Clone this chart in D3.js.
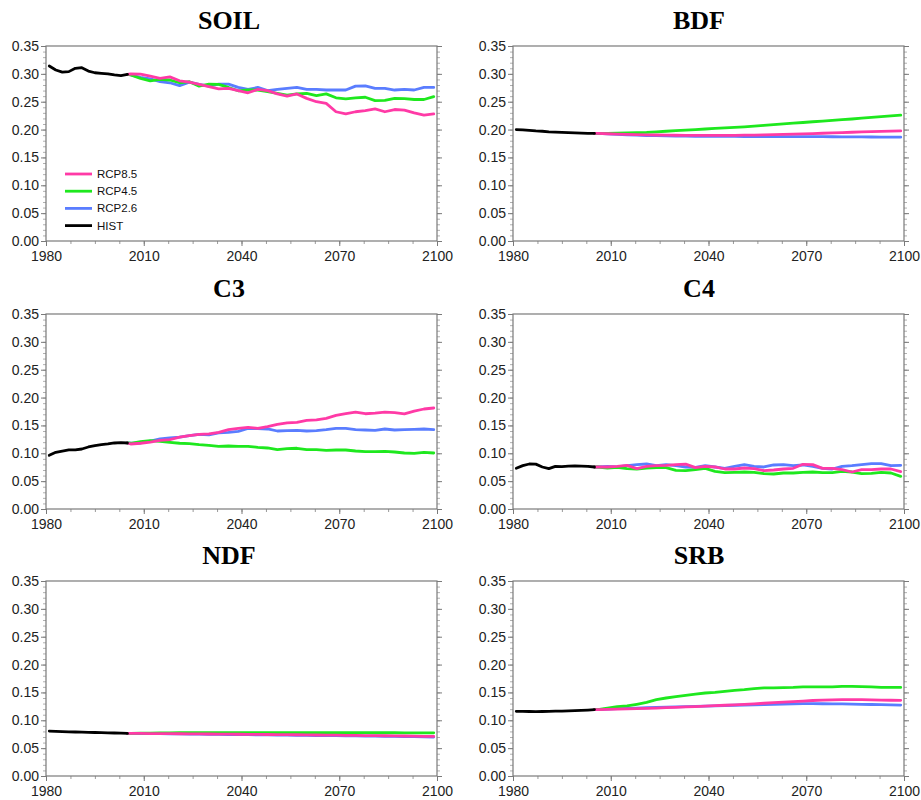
<!DOCTYPE html>
<html>
<head>
<meta charset="utf-8">
<script src="https://cdn.jsdelivr.net/npm/d3@7"></script>
<style>
  body { margin: 0; background: #fff; }
  svg { display: block; }
</style>
</head>
<body>
<div id="chart"></div>
<script>
// years: HIST every 2 yr, RCP every 3 yr
const histYears = d3.range(1981, 2006, 2);
const rcpYears = d3.range(2006, 2100, 3);
const xTickValues = [1980, 2010, 2040, 2070, 2100];
const yTickValues = [0, 0.05, 0.10, 0.15, 0.20, 0.25, 0.30, 0.35];
const seriesNames = ["RCP8.5", "RCP4.5", "RCP2.6", "HIST"];
const panelTitles = ["SOIL", "BDF", "C3", "C4", "NDF", "SRB"];

// SOIL
const soilHist = [0.314, 0.307, 0.303, 0.304, 0.310, 0.311, 0.305, 0.302, 0.301, 0.300, 0.298, 0.297, 0.299];
const soilRcp85 = [0.300, 0.2994, 0.296, 0.292, 0.2946, 0.2875, 0.285, 0.281, 0.277, 0.273, 0.274, 0.270, 0.266, 0.272, 0.270, 0.264,
  0.260, 0.264, 0.256, 0.250, 0.247, 0.232, 0.228, 0.232, 0.234, 0.237, 0.232, 0.236, 0.235, 0.230, 0.226, 0.228];
const soilRcp45 = [0.298, 0.292, 0.2875, 0.290, 0.289, 0.284, 0.286, 0.278, 0.2815, 0.281, 0.2756, 0.2696, 0.271, 0.271, 0.268, 0.265,
  0.262, 0.264, 0.265, 0.261, 0.264, 0.257, 0.255, 0.257, 0.258, 0.252, 0.2524, 0.256, 0.2554, 0.254, 0.254, 0.259];
const soilRcp26 = [0.298, 0.2935, 0.291, 0.286, 0.284, 0.279, 0.285, 0.281, 0.278, 0.2815, 0.2815, 0.2756, 0.272, 0.2756, 0.270, 0.272,
  0.274, 0.2756, 0.272, 0.272, 0.271, 0.271, 0.271, 0.278, 0.2786, 0.274, 0.274, 0.271, 0.272, 0.271, 0.2756, 0.2756];

// BDF
const bdfHist = [0.200, 0.1995, 0.1985, 0.1975, 0.197, 0.196, 0.1955, 0.195, 0.1945, 0.194, 0.1935, 0.193, 0.193];
const bdfRcp85 = [0.193, 0.1925, 0.192, 0.1915, 0.191, 0.1906, 0.1903, 0.190, 0.1898, 0.1896, 0.1895, 0.1895, 0.1895, 0.1896, 0.1897, 0.1899,
  0.1901, 0.1904, 0.1908, 0.1912, 0.1917, 0.1922, 0.1928, 0.1934, 0.194, 0.1946, 0.1952, 0.1958, 0.1963, 0.1968, 0.1973, 0.1977];
const bdfRcp45 = [0.193, 0.1932, 0.1935, 0.194, 0.1945, 0.195, 0.196, 0.197, 0.198, 0.199, 0.200, 0.201, 0.202, 0.203, 0.204, 0.205,
  0.2062, 0.2075, 0.209, 0.2103, 0.2115, 0.2127, 0.214, 0.2152, 0.2165, 0.2178, 0.219, 0.2205, 0.222, 0.2232, 0.2245, 0.2258];
const bdfRcp26 = [0.193, 0.1922, 0.1914, 0.1906, 0.190, 0.1894, 0.189, 0.1886, 0.1883, 0.1881, 0.188, 0.1879, 0.1878, 0.1877, 0.1877, 0.1876,
  0.1876, 0.1875, 0.1875, 0.1875, 0.1874, 0.1874, 0.1873, 0.1872, 0.1871, 0.187, 0.1869, 0.1868, 0.1867, 0.1866, 0.1865, 0.1864];

// C3
const c3Hist = [0.0963, 0.1017, 0.104, 0.106, 0.106, 0.1077, 0.1113, 0.1137, 0.1155, 0.1167, 0.1185, 0.119, 0.1185];
const c3Rcp85 = [0.1167, 0.118, 0.120, 0.123, 0.1245, 0.129, 0.1317, 0.134, 0.135, 0.1377, 0.1424, 0.1448, 0.1466, 0.1448, 0.148, 0.152,
  0.1544, 0.1556, 0.159, 0.160, 0.1628, 0.168, 0.171, 0.1738, 0.171, 0.172, 0.1738, 0.173, 0.1706, 0.1755, 0.1795, 0.1813];
const c3Rcp45 = [0.118, 0.1209, 0.1227, 0.1215, 0.1197, 0.118, 0.1173, 0.1155, 0.1143, 0.1125, 0.1131, 0.1125, 0.1125, 0.1107, 0.1095, 0.1065,
  0.1083, 0.109, 0.1065, 0.1065, 0.1053, 0.1059, 0.1059, 0.1041, 0.1029, 0.1029, 0.1035, 0.1023, 0.1005, 0.0999, 0.1017, 0.1005];
const c3Rcp26 = [0.118, 0.1185, 0.122, 0.1257, 0.1275, 0.129, 0.1317, 0.134, 0.1329, 0.1365, 0.1377, 0.1394, 0.1448, 0.1442, 0.1436, 0.140,
  0.1406, 0.1412, 0.140, 0.1406, 0.1424, 0.1448, 0.1448, 0.1424, 0.1418, 0.1412, 0.1436, 0.1418, 0.1424, 0.143, 0.1436, 0.1424];

// C4
const c4Hist = [0.073, 0.0778, 0.0808, 0.0805, 0.0754, 0.0724, 0.0766, 0.076, 0.0768, 0.0772, 0.077, 0.0766, 0.0754];
const c4Rcp85 = [0.0754, 0.0754, 0.0766, 0.0784, 0.0724, 0.0766, 0.0778, 0.0784, 0.0796, 0.0805, 0.0742, 0.0766, 0.0754, 0.0718, 0.0718, 0.0736,
  0.0724, 0.0688, 0.070, 0.0718, 0.073, 0.0802, 0.0796, 0.073, 0.073, 0.0706, 0.0664, 0.0706, 0.0706, 0.0718, 0.0718, 0.067];
const c4Rcp45 = [0.0754, 0.0736, 0.0748, 0.0724, 0.0718, 0.0736, 0.0742, 0.0742, 0.0694, 0.0688, 0.0706, 0.073, 0.0676, 0.0652, 0.0658, 0.0664,
  0.0658, 0.0634, 0.0628, 0.0646, 0.0646, 0.0658, 0.0664, 0.0652, 0.0652, 0.0676, 0.0664, 0.0634, 0.064, 0.0658, 0.0646, 0.0586];
const c4Rcp26 = [0.0754, 0.0766, 0.0754, 0.0778, 0.0796, 0.0808, 0.0778, 0.0796, 0.0778, 0.0754, 0.0748, 0.0778, 0.0754, 0.073, 0.0766, 0.0796,
  0.0766, 0.0754, 0.079, 0.0796, 0.0778, 0.079, 0.0766, 0.073, 0.0718, 0.0766, 0.0778, 0.0796, 0.0814, 0.0814, 0.0778, 0.0784];

// NDF
const ndfHist = [0.0805, 0.0801, 0.0797, 0.0793, 0.079, 0.0787, 0.0784, 0.0781, 0.0778, 0.0775, 0.0772, 0.0768, 0.0765];
const ndfRcp85 = [0.0765, 0.0764, 0.0762, 0.0761, 0.076, 0.0758, 0.0757, 0.0755, 0.0754, 0.0752, 0.0751, 0.0749, 0.0748, 0.0746, 0.0745, 0.0743,
  0.0742, 0.074, 0.0738, 0.0736, 0.0734, 0.0732, 0.073, 0.0728, 0.0726, 0.0724, 0.0722, 0.072, 0.0718, 0.0716, 0.0713, 0.0711];
const ndfRcp45 = [0.0765, 0.0768, 0.0771, 0.0773, 0.0775, 0.0777, 0.0778, 0.0779, 0.078, 0.078, 0.078, 0.078, 0.078, 0.078, 0.078, 0.0779,
  0.0779, 0.0779, 0.0779, 0.0778, 0.0778, 0.0778, 0.0777, 0.0777, 0.0777, 0.0776, 0.0776, 0.0776, 0.0775, 0.0775, 0.0775, 0.0775];
const ndfRcp26 = [0.0765, 0.0763, 0.0761, 0.0759, 0.0757, 0.0755, 0.0753, 0.0751, 0.0749, 0.0747, 0.0745, 0.0743, 0.0741, 0.0739, 0.0737, 0.0735,
  0.0733, 0.0731, 0.0729, 0.0727, 0.0725, 0.0723, 0.0721, 0.0719, 0.0717, 0.0715, 0.0713, 0.0711, 0.0708, 0.0705, 0.0702, 0.0699];

// SRB
const srbHist = [0.116, 0.116, 0.1158, 0.1157, 0.1158, 0.116, 0.1163, 0.1166, 0.117, 0.1173, 0.1177, 0.1183, 0.119];
const srbRcp85 = [0.119, 0.1195, 0.120, 0.1205, 0.121, 0.1215, 0.122, 0.1227, 0.1233, 0.124, 0.1247, 0.1255, 0.1262, 0.127, 0.1278, 0.1287,
  0.1296, 0.1306, 0.1316, 0.1326, 0.1335, 0.1345, 0.1355, 0.1363, 0.1368, 0.137, 0.1372, 0.137, 0.1366, 0.1362, 0.136, 0.1358];
const srbRcp45 = [0.119, 0.122, 0.1245, 0.1257, 0.1287, 0.132, 0.137, 0.140, 0.1424, 0.1448, 0.147, 0.149, 0.150, 0.152, 0.1538, 0.155,
  0.1568, 0.158, 0.158, 0.1586, 0.159, 0.1598, 0.160, 0.1598, 0.160, 0.161, 0.161, 0.1605, 0.1598, 0.159, 0.159, 0.159];
const srbRcp26 = [0.119, 0.120, 0.121, 0.1215, 0.122, 0.1225, 0.123, 0.1235, 0.124, 0.1245, 0.125, 0.1255, 0.126, 0.1265, 0.127, 0.1274,
  0.1278, 0.1282, 0.1286, 0.129, 0.1294, 0.1298, 0.130, 0.1297, 0.1295, 0.1293, 0.129, 0.1287, 0.1283, 0.128, 0.1277, 0.1273];

const panelData = [
  { hist: soilHist, rcp85: soilRcp85, rcp45: soilRcp45, rcp26: soilRcp26 },
  { hist: bdfHist, rcp85: bdfRcp85, rcp45: bdfRcp45, rcp26: bdfRcp26 },
  { hist: c3Hist, rcp85: c3Rcp85, rcp45: c3Rcp45, rcp26: c3Rcp26 },
  { hist: c4Hist, rcp85: c4Rcp85, rcp45: c4Rcp45, rcp26: c4Rcp26 },
  { hist: ndfHist, rcp85: ndfRcp85, rcp45: ndfRcp45, rcp26: ndfRcp26 },
  { hist: srbHist, rcp85: srbRcp85, rcp45: srbRcp45, rcp26: srbRcp26 }
];

const colors = { RCP85: "#ff3aa6", RCP45: "#1ee81e", RCP26: "#5a7dff", HIST: "#000000" };
const axisColor = "#7a7a7a";

const width = 921;
const height = 800;
const plotW = 391;
const plotH = 195;
const colX = [46, 513];
const rowY = [46, 314, 581];
const titleX = [229, 699];

const svg = d3.select("#chart")
  .append("svg")
  .attr("width", width)
  .attr("height", height)
  .attr("viewBox", `0 0 ${width} ${height}`);

const x = d3.scaleLinear().domain([1980, 2100]).range([0, plotW]);
const y = d3.scaleLinear().domain([0, 0.35]).range([plotH, 0]);

const line = d3.line()
  .x(d => x(d[0]))
  .y(d => y(d[1]));

panelTitles.forEach((title, i) => {
  const col = i % 2;
  const row = Math.floor(i / 2);
  const d = panelData[i];

  svg.append("text")
    .attr("x", titleX[col])
    .attr("y", rowY[row] - 17)
    .attr("text-anchor", "middle")
    .attr("font-family", "'Liberation Serif', 'Times New Roman', serif")
    .attr("font-weight", 700)
    .attr("font-size", 26)
    .attr("fill", "#000")
    .text(title);

  const g = svg.append("g")
    .attr("transform", `translate(${colX[col]}, ${rowY[row]})`);

  // minor ticks first, then major ticks
  const styleAxis = (sel, color) => {
    sel.select(".domain").remove();
    sel.selectAll(".tick line").attr("stroke", color);
    sel.selectAll("text")
      .attr("font-family", "'Liberation Sans', Arial, sans-serif")
      .attr("font-size", 14)
      .attr("fill", "#222");
  };

  g.append("g")
    .attr("transform", `translate(0, ${plotH})`)
    .call(d3.axisBottom(x).tickValues(d3.range(1980, 2100.1, 7.5)).tickSize(3).tickFormat(""))
    .call(s => styleAxis(s, "#9a9a9a"));
  g.append("g")
    .call(d3.axisLeft(y).tickValues(d3.range(0, 0.3501, 0.01)).tickSize(3).tickFormat(""))
    .call(s => styleAxis(s, "#b0b0b0"));
  g.append("g")
    .attr("transform", `translate(${plotW}, 0)`)
    .call(d3.axisRight(y).tickValues(d3.range(0, 0.3501, 0.01)).tickSize(3).tickFormat(""))
    .call(s => styleAxis(s, "#b0b0b0"));

  g.append("g")
    .attr("transform", `translate(0, ${plotH})`)
    .call(d3.axisBottom(x).tickValues(xTickValues).tickSize(5).tickPadding(5).tickFormat(d3.format("d")))
    .call(s => styleAxis(s, axisColor));
  g.append("g")
    .call(d3.axisLeft(y).tickValues(yTickValues).tickSize(5).tickPadding(2).tickFormat(d3.format(".2f")))
    .call(s => styleAxis(s, axisColor));
  g.append("g")
    .attr("transform", `translate(${plotW}, 0)`)
    .call(d3.axisRight(y).tickValues(yTickValues).tickSize(5).tickFormat(""))
    .call(s => styleAxis(s, axisColor));

  g.append("rect")
    .attr("width", plotW)
    .attr("height", plotH)
    .attr("fill", "none")
    .attr("stroke", axisColor)
    .attr("stroke-width", 1.2);

  const histPts = histYears.map((yr, k) => [yr, d.hist[k]]);
  const joint = histPts[histPts.length - 1];
  const rcpPts = vals => [joint].concat(rcpYears.map((yr, k) => [yr, vals[k]]));

  const series = [
    { pts: rcpPts(d.rcp26), color: colors.RCP26 },
    { pts: rcpPts(d.rcp45), color: colors.RCP45 },
    { pts: rcpPts(d.rcp85), color: colors.RCP85 },
    { pts: histPts, color: colors.HIST }
  ];

  g.selectAll("path.series")
    .data(series)
    .join("path")
    .attr("class", "series")
    .attr("d", s => line(s.pts))
    .attr("fill", "none")
    .attr("stroke", s => s.color)
    .attr("stroke-width", 2.8)
    .attr("stroke-linejoin", "round")
    .attr("stroke-linecap", "round");

  if (i === 0) {
    const legendColors = [colors.RCP85, colors.RCP45, colors.RCP26, colors.HIST];
    const legend = g.append("g").attr("transform", "translate(19, 128)");
    const items = legend.selectAll("g")
      .data(seriesNames)
      .join("g")
      .attr("transform", (n, k) => `translate(0, ${k * 17.2})`);
    items.append("line")
      .attr("x1", 0)
      .attr("x2", 27)
      .attr("stroke", (n, k) => legendColors[k])
      .attr("stroke-width", 2.8);
    items.append("text")
      .attr("x", 32)
      .attr("dy", "0.35em")
      .attr("font-family", "'Liberation Sans', Arial, sans-serif")
      .attr("font-size", 11.5)
      .attr("fill", "#111")
      .text(n => n);
  }
});
</script>
</body>
</html>
